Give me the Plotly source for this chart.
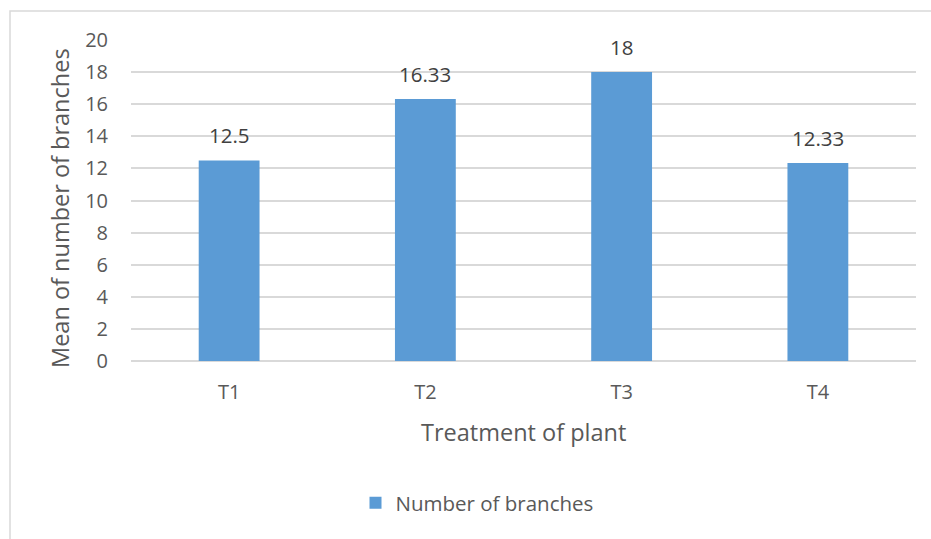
import plotly.graph_objects as go

# Mean number of branches per plant treatment
treatments = ["T1", "T2", "T3", "T4"]
branches = [12.5, 16.33, 18, 12.33]
value_labels = ["12.5", "16.33", "18", "12.33"]
y_ticks = [0, 2, 4, 6, 8, 10, 12, 14, 16, 18, 20]

FONT = "Open Sans, Noto Sans, sans-serif"
GRAY = "#595959"
BAR = "#5b9bd5"
GRID = "#d9d9d9"

fig = go.Figure()
fig.add_trace(go.Bar(
    x=treatments,
    y=branches,
    name="Number of branches",
    marker=dict(color=BAR, line=dict(width=0)),
    width=0.31,
))

# value labels above each bar
for cat, val, lab in zip(treatments, branches, value_labels):
    fig.add_annotation(
        x=cat, y=val, text=lab, showarrow=False,
        yanchor="bottom", yshift=9,
        font=dict(family=FONT, size=20.5, color="#404040"),
    )

# axis titles
fig.add_annotation(
    xref="paper", yref="paper", x=(60 - 131) / 785, y=(361 - 208) / 321,
    text="Mean of number of branches", textangle=-90, showarrow=False,
    xanchor="center", yanchor="middle",
    font=dict(family=FONT, size=23.5, color=GRAY),
)
fig.add_annotation(
    xref="paper", yref="paper", x=0.5, y=(361 - 432) / 321,
    text="Treatment of plant", showarrow=False,
    xanchor="center", yanchor="middle",
    font=dict(family=FONT, size=23.5, color=GRAY),
)

# outer chart border
fig.add_shape(
    type="rect", xref="paper", yref="paper",
    x0=(10 - 131) / 785, x1=(940 - 131) / 785,
    y0=(361 - 560) / 321, y1=(361 - 11) / 321,
    line=dict(color=GRID, width=1.5), fillcolor="rgba(0,0,0,0)",
    layer="below",
)

fig.update_layout(
    width=931, height=539,
    margin=dict(l=131, r=15, t=40, b=178),
    paper_bgcolor="white", plot_bgcolor="white",
    bargap=0.69,
    showlegend=True,
    legend=dict(
        orientation="h", x=(477 - 131) / 785, y=(361 - 503) / 321,
        xanchor="center", yanchor="middle",
        font=dict(family=FONT, size=20.5, color=GRAY),
        itemwidth=30,
    ),
    xaxis=dict(
        showgrid=False, showline=False, ticks="",
        tickfont=dict(family=FONT, size=20, color=GRAY),
        ticklabelstandoff=17,
    ),
    yaxis=dict(
        range=[0, 20], tickvals=y_ticks,
        showgrid=True, gridcolor=GRID, gridwidth=1.5,
        zeroline=True, zerolinecolor=GRID, zerolinewidth=1.5,
        showline=False, ticks="",
        tickfont=dict(family=FONT, size=20, color=GRAY),
        ticklabelstandoff=22,
    ),
)

fig.write_html("out.html")
